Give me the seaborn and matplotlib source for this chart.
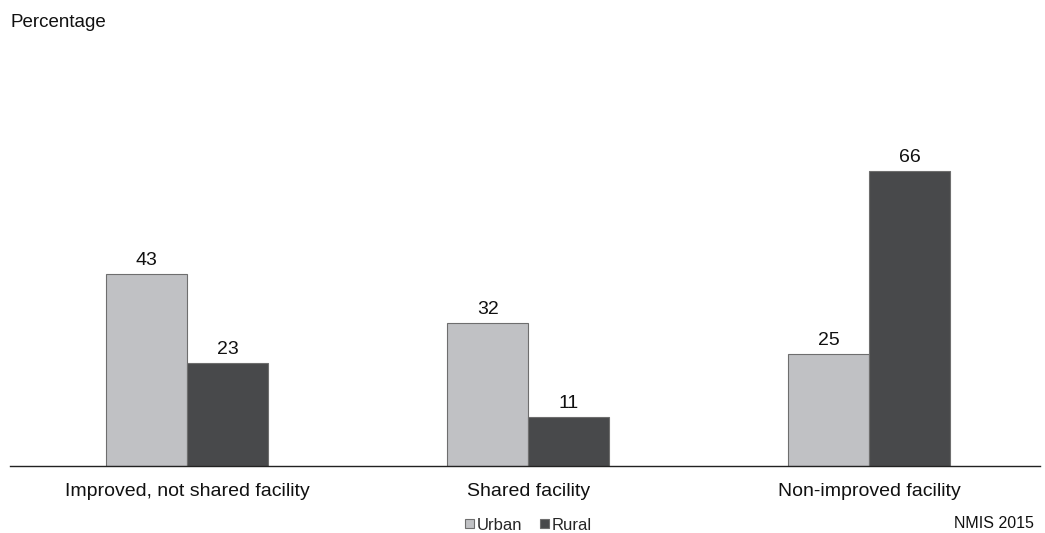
import matplotlib
matplotlib.use("Agg")
import matplotlib.pyplot as plt
import seaborn as sns
import pandas as pd
from matplotlib.patches import Patch

sns.set_theme(style="white")
plt.rcParams['font.family'] = ['Liberation Sans', 'DejaVu Sans']

categories = ["Improved, not shared facility", "Shared facility", "Non-improved facility"]
series = ["Urban", "Rural"]
urban = [43, 32, 25]
rural = [23, 11, 66]
colors = ["#c0c1c4", "#48494b"]

df = pd.DataFrame({
    "category": categories * 2,
    "area": ["Urban"] * 3 + ["Rural"] * 3,
    "value": urban + rural,
})

fig = plt.figure(figsize=(10.45, 5.33), dpi=100)
ax = fig.add_axes([0.0096, 0.1257, 0.9856, 0.80])

sns.barplot(data=df, x="category", y="value", hue="area", hue_order=series,
            order=categories, palette=colors, width=0.475, dodge=True,
            edgecolor="#6e6e6e", linewidth=0.8, saturation=1, legend=False, ax=ax)

for container in ax.containers:
    ax.bar_label(container, fmt="%d", padding=3.5, fontsize=14, color="#111111")

ax.set_xlim(-0.52, 2.5)
ax.set_ylim(0, 95.4)
ax.set_xlabel("")
ax.set_ylabel("")
ax.set_yticks([])
ax.tick_params(axis="x", length=0, labelsize=14, pad=12.5, colors="#111111")
for s in ["top", "right", "left"]:
    ax.spines[s].set_visible(False)
ax.spines["bottom"].set_color("#222222")
ax.spines["bottom"].set_linewidth(1.0)

fig.text(0.0096, 0.957, "Percentage", fontsize=13.5, color="#111111", va="center")
fig.text(0.989, 0.004, "NMIS 2015", fontsize=11.5, color="#111111", ha="right", va="bottom")

handles = [Patch(facecolor=c, edgecolor="#6e6e6e", linewidth=0.8) for c in colors]
fig.legend(handles, series, loc="center", bbox_to_anchor=(0.5057, 0.015), ncol=2,
           frameon=False, fontsize=12, handlelength=0.52, handleheight=0.52,
           handletextpad=0.15, columnspacing=1.1, borderaxespad=0, borderpad=0)

fig.savefig("out.png", dpi=100)
